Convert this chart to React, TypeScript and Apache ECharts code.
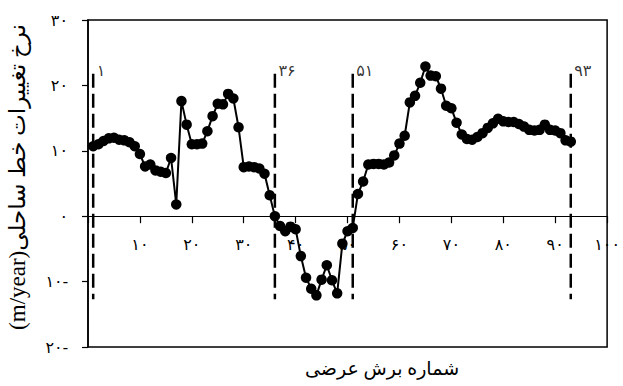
import React, { useEffect, useRef } from "react";
import * as echarts from "echarts";

// Shoreline change rate (m/year) for transects 1..93
const rates = [
  10.7, 11.0, 11.5, 11.9, 12.0, 11.7, 11.6, 11.3, 10.7, 9.5,
  7.6, 7.9, 7.0, 6.8, 6.6, 8.9, 1.8, 17.6, 14.0, 11.0,
  11.0, 11.1, 13.0, 15.3, 17.2, 17.1, 18.7, 18.0, 13.6, 7.5,
  7.6, 7.5, 7.3, 6.5, 3.2, 0.0, -1.5, -2.3, -1.6, -2.0,
  -6.1, -9.4, -11.1, -12.1, -9.7, -7.5, -9.8, -11.8, -4.2, -2.3,
  -1.8, 3.4, 5.3, 7.9, 8.0, 8.0, 7.9, 8.2, 9.3, 11.1,
  12.3, 17.4, 18.4, 20.4, 22.9, 21.5, 21.4, 19.5, 16.9, 16.5,
  14.3, 12.5, 11.8, 11.7, 12.1, 12.7, 13.5, 14.2, 14.9, 14.5,
  14.4, 14.4, 14.1, 13.7, 13.2, 13.1, 13.2, 14.0, 13.2, 13.1,
  12.7, 11.6, 11.4,
];

// Boundary transects marked with dashed lines
const boundaries = [1, 36, 51, 93];
const dashTop = 21.8;
const dashBottom = -12.7;
const boundaryLabelY = 22.3;

const yMin = -20;
const yMax = 30;

const xTitle = "شماره برش عرضی";
const yTitle = "(m/year)نرخ تغییرات خط ساحلی";

const persian = (n: number) =>
  String(n).replace(/\d/g, (d) => "۰۱۲۳۴۵۶۷۸۹"[+d]);

const FONT = "'Liberation Serif', 'DejaVu Serif', 'DejaVu Sans', serif";

const GRID_TOP = 20;
const GRID_BOTTOM = 39;
const HEIGHT = 386;

export default function App() {
  const ref = useRef<HTMLDivElement>(null);
  useEffect(() => {
    const chart = echarts.init(ref.current!, null, { renderer: "svg" });
    const black = "#000";
    const gridH = HEIGHT - GRID_TOP - GRID_BOTTOM;
    // move the x axis up from the grid bottom to the y = 0 line
    const zeroOffset = -(gridH * (0 - yMin)) / (yMax - yMin);
    const dashedSeries = boundaries.map((b) => ({
      type: "line",
      silent: true,
      symbol: "none",
      data: [
        [b, dashTop],
        [b, dashBottom],
      ],
      lineStyle: { color: black, width: 2.5, type: [14, 6] },
      z: 1,
    }));
    chart.setOption({
      animation: false,
      backgroundColor: "#fff",
      grid: {
        left: 88,
        right: 15,
        top: GRID_TOP,
        bottom: GRID_BOTTOM,
        show: true,
        borderColor: black,
        borderWidth: 1.5,
      },
      xAxis: {
        type: "value",
        min: 0,
        max: 100,
        interval: 10,
        offset: zeroOffset,
        axisLine: { onZero: false, lineStyle: { color: black, width: 1.2 } },
        axisTick: { show: true, length: 7, lineStyle: { color: black, width: 1.2 } },
        axisLabel: {
          margin: 20,
          color: black,
          fontSize: 16,
          fontFamily: FONT,
          formatter: (v: number) => (v === 0 ? "" : persian(v)),
        },
        splitLine: { show: false },
      },
      yAxis: {
        type: "value",
        min: yMin,
        max: yMax,
        interval: 10,
        axisLine: { show: true, onZero: false, lineStyle: { color: black, width: 1.5 } },
        axisTick: { show: true, length: 6, lineStyle: { color: black, width: 1.2 } },
        axisLabel: {
          margin: 20,
          color: black,
          fontSize: 16,
          fontFamily: FONT,
          formatter: (v: number) => persian(Math.abs(v)) + (v < 0 ? "-" : ""),
        },
        splitLine: { show: false },
      },
      series: [
        ...dashedSeries,
        {
          type: "scatter",
          silent: true,
          symbolSize: 1,
          itemStyle: { color: "rgba(0,0,0,0)" },
          data: boundaries.map((b) => [b, boundaryLabelY]),
          label: {
            show: true,
            position: "right",
            distance: 3,
            color: black,
            fontSize: 16,
            fontFamily: FONT,
            formatter: (p: any) => persian(p.value[0]),
          },
        },
        {
          type: "line",
          data: rates.map((v, k) => [k + 1, v]),
          symbol: "circle",
          symbolSize: 10.5,
          showAllSymbol: true,
          itemStyle: { color: black },
          lineStyle: { color: black, width: 2 },
          z: 3,
        },
      ],
      graphic: [
        {
          type: "text",
          x: 17,
          y: 177,
          rotation: Math.PI / 2,
          style: {
            text: yTitle,
            fontSize: 23,
            fontFamily: FONT,
            fill: black,
            align: "center",
            verticalAlign: "middle",
          },
        },
        {
          type: "text",
          x: 382,
          y: 368,
          style: {
            text: xTitle,
            fontSize: 19,
            fontFamily: FONT,
            fill: black,
            align: "center",
            verticalAlign: "middle",
          },
        },
      ],
    });
    return () => chart.dispose();
  }, []);
  return (
    <div
      ref={ref}
      style={{ position: "fixed", left: 0, top: 0, width: 623, height: 386 }}
    />
  );
}
